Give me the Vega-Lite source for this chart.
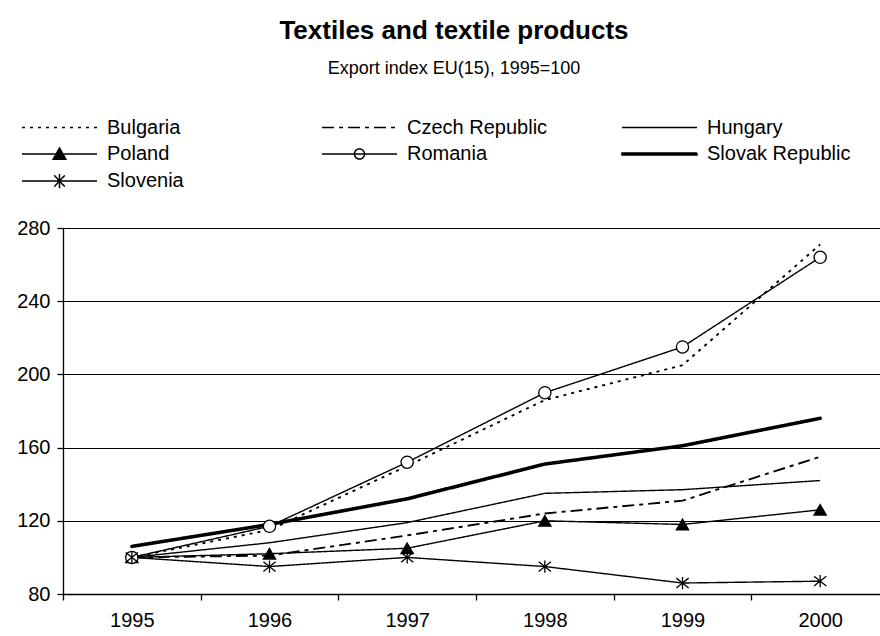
{
  "$schema": "https://vega.github.io/schema/vega-lite/v6.json",
  "width": 826,
  "height": 366,
  "autosize": {"type": "none"},
  "padding": {"left": 63, "top": 228, "right": 0, "bottom": 42},
  "background": "white",
  "title": {
    "text": "Textiles and textile products",
    "subtitle": "Export index EU(15), 1995=100",
    "font": "Liberation Sans",
    "fontSize": 26,
    "fontWeight": "bold",
    "color": "black",
    "subtitleFont": "Liberation Sans",
    "subtitleFontSize": 18,
    "subtitleColor": "black",
    "subtitlePadding": 16,
    "anchor": "middle",
    "dx": -22,
    "offset": 39
  },
  "config": {
    "view": {"stroke": null},
    "font": "Liberation Sans"
  },
  "data": {
    "values": [
      {"year": "1995", "country": "Bulgaria", "value": 100},
      {"year": "1996", "country": "Bulgaria", "value": 115},
      {"year": "1997", "country": "Bulgaria", "value": 150},
      {"year": "1998", "country": "Bulgaria", "value": 186},
      {"year": "1999", "country": "Bulgaria", "value": 205},
      {"year": "2000", "country": "Bulgaria", "value": 271},
      {"year": "1995", "country": "Czech Republic", "value": 100},
      {"year": "1996", "country": "Czech Republic", "value": 101},
      {"year": "1997", "country": "Czech Republic", "value": 112},
      {"year": "1998", "country": "Czech Republic", "value": 124},
      {"year": "1999", "country": "Czech Republic", "value": 131},
      {"year": "2000", "country": "Czech Republic", "value": 155},
      {"year": "1995", "country": "Hungary", "value": 100},
      {"year": "1996", "country": "Hungary", "value": 108},
      {"year": "1997", "country": "Hungary", "value": 119},
      {"year": "1998", "country": "Hungary", "value": 135},
      {"year": "1999", "country": "Hungary", "value": 137},
      {"year": "2000", "country": "Hungary", "value": 142},
      {"year": "1995", "country": "Poland", "value": 100},
      {"year": "1996", "country": "Poland", "value": 102},
      {"year": "1997", "country": "Poland", "value": 105},
      {"year": "1998", "country": "Poland", "value": 120},
      {"year": "1999", "country": "Poland", "value": 118},
      {"year": "2000", "country": "Poland", "value": 126},
      {"year": "1995", "country": "Romania", "value": 100},
      {"year": "1996", "country": "Romania", "value": 117},
      {"year": "1997", "country": "Romania", "value": 152},
      {"year": "1998", "country": "Romania", "value": 190},
      {"year": "1999", "country": "Romania", "value": 215},
      {"year": "2000", "country": "Romania", "value": 264},
      {"year": "1995", "country": "Slovak Republic", "value": 106},
      {"year": "1996", "country": "Slovak Republic", "value": 118},
      {"year": "1997", "country": "Slovak Republic", "value": 132},
      {"year": "1998", "country": "Slovak Republic", "value": 151},
      {"year": "1999", "country": "Slovak Republic", "value": 161},
      {"year": "2000", "country": "Slovak Republic", "value": 176},
      {"year": "1995", "country": "Slovenia", "value": 100},
      {"year": "1996", "country": "Slovenia", "value": 95},
      {"year": "1997", "country": "Slovenia", "value": 100},
      {"year": "1998", "country": "Slovenia", "value": 95},
      {"year": "1999", "country": "Slovenia", "value": 86},
      {"year": "2000", "country": "Slovenia", "value": 87}
    ]
  },
  "encoding": {
    "x": {
      "field": "year",
      "type": "ordinal",
      "bandPosition": 0.5,
      "scale": {"type": "band", "paddingInner": 0, "paddingOuter": 0},
      "axis": {
        "title": null,
        "labelAngle": 0,
        "tickBand": "extent",
        "labelFont": "Liberation Sans",
        "labelFontSize": 20,
        "labelColor": "black",
        "labelPadding": 10,
        "domainColor": "black",
        "domainWidth": 1.3,
        "tickColor": "black",
        "tickWidth": 1.3,
        "tickSize": 6,
        "grid": false
      }
    },
    "y": {
      "field": "value",
      "type": "quantitative",
      "scale": {"domain": [80, 280], "nice": false, "zero": false},
      "axis": {
        "title": null,
        "values": [80, 120, 160, 200, 240, 280],
        "grid": true,
        "gridColor": "black",
        "gridOpacity": 1,
        "gridWidth": 1.2,
        "labelFont": "Liberation Sans",
        "labelFontSize": 20,
        "labelColor": "black",
        "labelPadding": 7,
        "domainColor": "black",
        "domainWidth": 1.3,
        "tickColor": "black",
        "tickWidth": 1.3,
        "tickSize": 6
      }
    }
  },
  "layer": [
    {
      "transform": [{"filter": {"field": "country", "oneOf": ["Bulgaria", "Czech Republic"]}}],
      "mark": {"type": "line", "stroke": "black", "strokeCap": "butt", "strokeWidth": 1.9},
      "encoding": {
        "strokeDash": {
          "field": "country",
          "type": "nominal",
          "scale": {
            "domain": ["Bulgaria", "Czech Republic", "Hungary", "Poland", "Romania", "Slovak Republic", "Slovenia"],
            "range": [[3, 5], [12, 5, 4, 5], [1, 0], [1, 0], [1, 0], [1, 0], [1, 0]]
          },
          "legend": {
            "orient": "none",
            "legendX": -13.5,
            "legendY": -111,
            "direction": "horizontal",
            "columns": 3,
            "gridAlign": "all",
            "title": null,
            "padding": 0,
            "symbolType": "stroke",
            "symbolSize": 225,
            "symbolStrokeColor": "black",
            "symbolStrokeWidth": 1.5,
            "labelFont": "Liberation Sans",
            "labelFontSize": 20,
            "labelColor": "black",
            "labelOffset": 37.5,
            "labelLimit": 300,
            "columnPadding": 68,
            "rowPadding": 5,
            "encode": {
              "symbols": {
                "update": {
                  "shape": {"signal": "datum.value === 'Poland' ? 'M-5,0H5M-0.85,0.7L0,-0.8L0.85,0.7Z' : datum.value === 'Romania' ? 'M-5,0H5M0.67,0A0.67,0.67 0 1,1 -0.67,0A0.67,0.67 0 1,1 0.67,0' : datum.value === 'Slovenia' ? 'M-5,0H5M-0.7,-0.75L0.7,0.75M-0.7,0.75L0.7,-0.75M0,-0.95V0.95' : datum.value === 'Slovak Republic' ? 'M-5,-0.14H5V0.14H-5Z' : 'M-5,0H5'"},
                  "fill": {"signal": "(datum.value === 'Poland' || datum.value === 'Slovak Republic') ? 'black' : 'transparent'"},
                  "stroke": {"value": "black"},
                  "opacity": {"value": 1}
                }
              }
            }
          }
        }
      }
    },
    {
      "transform": [{"filter": {"field": "country", "oneOf": ["Hungary", "Poland", "Romania", "Slovenia"]}}],
      "mark": {"type": "line", "stroke": "black", "strokeCap": "butt", "strokeWidth": 1.4},
      "encoding": {
        "strokeDash": {"field": "country", "type": "nominal"}
      }
    },
    {
      "transform": [{"filter": {"field": "country", "equal": "Slovak Republic"}}],
      "mark": {"type": "line", "stroke": "black", "strokeCap": "round", "strokeWidth": 3.5},
      "encoding": {
        "strokeDash": {"field": "country", "type": "nominal"}
      }
    },
    {
      "transform": [{"filter": {"field": "country", "oneOf": ["Poland", "Romania", "Slovenia"]}}],
      "mark": {"type": "point", "stroke": "black", "strokeWidth": 1.3, "opacity": 1, "size": 150},
      "encoding": {
        "shape": {
          "field": "country",
          "type": "nominal",
          "scale": {
            "domain": ["Poland", "Romania", "Slovenia"],
            "range": ["triangle-up", "circle", "M-1,-0.8L1,0.8M-1,0.8L1,-0.8M0,-1V1"]
          },
          "legend": null
        },
        "fill": {
          "field": "country",
          "type": "nominal",
          "scale": {
            "domain": ["Poland", "Romania", "Slovenia"],
            "range": ["black", "white", "transparent"]
          },
          "legend": null
        }
      }
    }
  ]
}
